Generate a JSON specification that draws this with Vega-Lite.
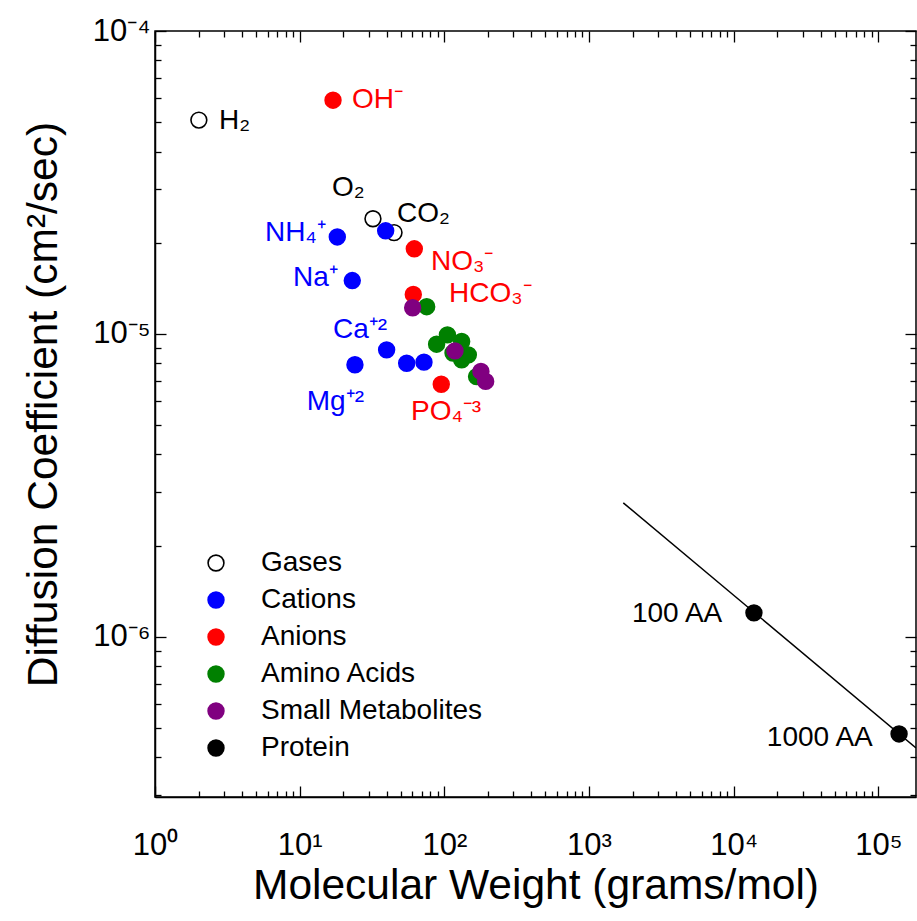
{
  "$schema": "https://vega.github.io/schema/vega-lite/v6.json",
  "width": 761,
  "height": 766,
  "autosize": {"type": "none"},
  "padding": {"left": 155, "top": 31, "right": 1, "bottom": 124},
  "background": "white",
  "datasets": {
    "points": [
      {"name": "H2", "group": "Gases", "mw": 2.01, "d": 5.08e-5},
      {"name": "O2", "group": "Gases", "mw": 32.1, "d": 2.40e-5},
      {"name": "CO2", "group": "Gases", "mw": 44.9, "d": 2.16e-5},
      {"name": "NH4+", "group": "Cations", "mw": 18.2, "d": 2.09e-5},
      {"name": "K+", "group": "Cations", "mw": 39.3, "d": 2.19e-5},
      {"name": "Na+", "group": "Cations", "mw": 23.1, "d": 1.50e-5},
      {"name": "Ca+2", "group": "Cations", "mw": 39.9, "d": 8.86e-6},
      {"name": "Mg+2", "group": "Cations", "mw": 24.1, "d": 7.91e-6},
      {"name": "Mn+2", "group": "Cations", "mw": 54.9, "d": 8.00e-6},
      {"name": "cation7", "group": "Cations", "mw": 72.3, "d": 8.07e-6},
      {"name": "OH-", "group": "Anions", "mw": 17.0, "d": 5.91e-5},
      {"name": "NO3-", "group": "Anions", "mw": 62.0, "d": 1.91e-5},
      {"name": "HCO3-", "group": "Anions", "mw": 61.0, "d": 1.35e-5},
      {"name": "PO4-3", "group": "Anions", "mw": 95.2, "d": 6.82e-6},
      {"name": "aa1", "group": "Amino Acids", "mw": 75.5, "d": 1.23e-5},
      {"name": "aa2", "group": "Amino Acids", "mw": 88.4, "d": 9.25e-6},
      {"name": "aa3", "group": "Amino Acids", "mw": 105, "d": 9.93e-6},
      {"name": "aa4", "group": "Amino Acids", "mw": 131.7, "d": 9.44e-6},
      {"name": "aa5", "group": "Amino Acids", "mw": 146.5, "d": 8.53e-6},
      {"name": "aa6", "group": "Amino Acids", "mw": 131.7, "d": 8.21e-6},
      {"name": "aa7", "group": "Amino Acids", "mw": 114.8, "d": 8.65e-6},
      {"name": "aa8", "group": "Amino Acids", "mw": 167, "d": 7.23e-6},
      {"name": "m1", "group": "Small Metabolites", "mw": 60.4, "d": 1.22e-5},
      {"name": "m2", "group": "Small Metabolites", "mw": 118.4, "d": 8.79e-6},
      {"name": "m3", "group": "Small Metabolites", "mw": 179, "d": 7.52e-6},
      {"name": "m4", "group": "Small Metabolites", "mw": 193, "d": 6.97e-6},
      {"name": "100 AA", "group": "Protein", "mw": 13800, "d": 1.20e-6},
      {"name": "1000 AA", "group": "Protein", "mw": 139000, "d": 4.78e-7}
    ],
    "line": [
      {"mw": 1725, "d": 2.77e-6},
      {"mw": 182000, "d": 4.30e-7}
    ],
    "labels": [
      {"text": "H₂", "group": "Gases", "mw": 2.77, "d": 5.05e-5},
      {"text": "OH⁻", "group": "Anions", "mw": 23.0, "d": 5.91e-5},
      {"text": "O₂", "group": "Gases", "mw": 16.7, "d": 3.03e-5},
      {"text": "CO₂", "group": "Gases", "mw": 47.0, "d": 2.49e-5},
      {"text": "NH₄⁺", "group": "Cations", "mw": 5.75, "d": 2.16e-5},
      {"text": "Na⁺", "group": "Cations", "mw": 8.99, "d": 1.53e-5},
      {"text": "NO₃⁻", "group": "Anions", "mw": 80.8, "d": 1.73e-5},
      {"text": "HCO₃⁻", "group": "Anions", "mw": 107.6, "d": 1.35e-5},
      {"text": "Ca⁺²", "group": "Cations", "mw": 17.0, "d": 1.03e-5},
      {"text": "Mg⁺²", "group": "Cations", "mw": 11.2, "d": 5.97e-6},
      {"text": "PO₄⁻³", "group": "Anions", "mw": 58.8, "d": 5.53e-6},
      {"text": "100 AA", "group": "Protein", "mw": 1981, "d": 1.19e-6},
      {"text": "1000 AA", "group": "Protein", "mw": 16950, "d": 4.65e-7}
    ]
  },
  "layer": [
    {
      "data": {"name": "line"},
      "mark": {"type": "line", "color": "black", "strokeWidth": 1.5, "clip": true},
      "encoding": {
        "x": {"field": "mw", "type": "quantitative",
          "scale": {"type": "log", "domain": [1, 182000], "nice": false},
          "axis": {"orient": "top", "labels": false, "title": null, "domain": false,
            "values": [1,2,3,4,5,6,7,8,9,10,20,30,40,50,60,70,80,90,100,200,300,400,500,600,700,800,900,1000,2000,3000,4000,5000,6000,7000,8000,9000,10000,20000,30000,40000,50000,60000,70000,80000,90000,100000],
            "tickSize": {"condition": {"test": "indexof([1,10,100,1000,10000,100000], datum.value) >= 0", "value": -11}, "value": -6}}},
        "y": {"field": "d", "type": "quantitative",
          "scale": {"type": "log", "domain": [2.96e-7, 1e-4], "nice": false},
          "axis": {"orient": "right", "labels": false, "title": null, "domain": false,
            "values": [3e-7,4e-7,5e-7,6e-7,7e-7,8e-7,9e-7,1e-6,2e-6,3e-6,4e-6,5e-6,6e-6,7e-6,8e-6,9e-6,1e-5,2e-5,3e-5,4e-5,5e-5,6e-5,7e-5,8e-5,9e-5,1e-4],
            "tickSize": {"condition": {"test": "indexof([1e-4,1e-5,1e-6], datum.value) >= 0", "value": -11}, "value": -6}}}
      }
    },
    {
      "data": {"name": "points"},
      "mark": {"type": "point", "shape": "circle", "size": 250, "strokeWidth": 1.6, "opacity": 1},
      "encoding": {
        "x": {"field": "mw", "type": "quantitative",
          "scale": {"type": "log", "domain": [1, 182000], "nice": false},
          "axis": {"orient": "bottom", "title": "Molecular Weight (grams/mol)",
            "values": [1,2,3,4,5,6,7,8,9,10,20,30,40,50,60,70,80,90,100,200,300,400,500,600,700,800,900,1000,2000,3000,4000,5000,6000,7000,8000,9000,10000,20000,30000,40000,50000,60000,70000,80000,90000,100000],
            "labelExpr": "datum.value == 1 ? '10⁰' : datum.value == 10 ? '10¹' : datum.value == 100 ? '10²' : datum.value == 1000 ? '10³' : datum.value == 10000 ? '10⁴' : datum.value == 100000 ? '10⁵' : ''",
            "labelPadding": 44,
            "titlePadding": -1,
            "tickSize": {"condition": {"test": "indexof([1,10,100,1000,10000,100000], datum.value) >= 0", "value": -11}, "value": -6}}},
        "y": {"field": "d", "type": "quantitative",
          "scale": {"type": "log", "domain": [2.96e-7, 1e-4], "nice": false},
          "axis": {"orient": "left", "title": "Diffusion Coefficient (cm²/sec)",
            "values": [3e-7,4e-7,5e-7,6e-7,7e-7,8e-7,9e-7,1e-6,2e-6,3e-6,4e-6,5e-6,6e-6,7e-6,8e-6,9e-6,1e-5,2e-5,3e-5,4e-5,5e-5,6e-5,7e-5,8e-5,9e-5,1e-4],
            "labelExpr": "datum.value == 1e-4 ? '10⁻⁴' : datum.value == 1e-5 ? '10⁻⁵' : datum.value == 1e-6 ? '10⁻⁶' : ''",
            "labelPadding": 16,
            "titlePadding": 27,
            "titleY": 373,
            "tickSize": {"condition": {"test": "indexof([1e-4,1e-5,1e-6], datum.value) >= 0", "value": -11}, "value": -6}}},
        "fill": {"field": "group", "type": "nominal",
          "scale": {"domain": ["Gases", "Cations", "Anions", "Amino Acids", "Small Metabolites", "Protein"],
                    "range": ["#ffffff", "#0000ff", "#ff0000", "#008000", "#800080", "#000000"]},
          "legend": {"title": null, "orient": "none", "legendX": 47, "legendY": 518,
            "symbolType": "circle", "symbolSize": 250, "symbolStrokeWidth": 1.6,
            "labelFont": "Liberation Sans", "labelFontSize": 28, "labelColor": "black", "labelLimit": 0,
            "labelOffset": 31, "rowPadding": 9, "padding": 0, "symbolOpacity": 1}},
        "stroke": {"field": "group", "type": "nominal",
          "scale": {"domain": ["Gases", "Cations", "Anions", "Amino Acids", "Small Metabolites", "Protein"],
                    "range": ["#000000", "#0000ff", "#ff0000", "#008000", "#800080", "#000000"]},
          "legend": {"title": null, "orient": "none", "legendX": 47, "legendY": 518,
            "symbolType": "circle", "symbolSize": 250, "symbolStrokeWidth": 1.6,
            "labelFont": "Liberation Sans", "labelFontSize": 28, "labelColor": "black", "labelLimit": 0,
            "labelOffset": 31, "rowPadding": 9, "padding": 0, "symbolOpacity": 1}}
      }
    },
    {
      "data": {"name": "labels"},
      "mark": {"type": "text", "align": "left", "baseline": "middle", "font": "Liberation Sans", "fontSize": 28},
      "encoding": {
        "x": {"field": "mw", "type": "quantitative", "scale": {"type": "log", "domain": [1, 182000], "nice": false}, "axis": null},
        "y": {"field": "d", "type": "quantitative", "scale": {"type": "log", "domain": [2.96e-7, 1e-4], "nice": false}, "axis": null},
        "text": {"field": "text", "type": "nominal"},
        "color": {"field": "group", "type": "nominal",
          "scale": {"domain": ["Gases", "Cations", "Anions", "Amino Acids", "Small Metabolites", "Protein"],
                    "range": ["#000000", "#0000ff", "#ff0000", "#008000", "#800080", "#000000"]},
          "legend": null}
      }
    }
  ],
  "resolve": {"axis": {"x": "independent", "y": "independent"}},
  "config": {
    "view": {"stroke": "black", "strokeWidth": 1.5},
    "axis": {
      "grid": false,
      "domainColor": "black", "domainWidth": 1.5,
      "tickColor": "black", "tickWidth": 1.3,
      "labelFont": "Liberation Sans", "labelFontSize": 31, "labelColor": "black",
      "labelOverlap": false, "labelFlush": false, "labelBound": false,
      "titleFont": "Liberation Sans", "titleFontSize": 42.5, "titleFontWeight": "normal", "titleColor": "black"
    }
  }
}
